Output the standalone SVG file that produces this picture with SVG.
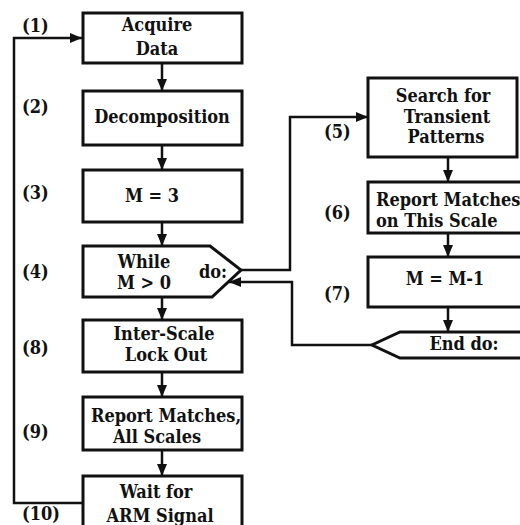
<svg xmlns="http://www.w3.org/2000/svg" width="520" height="525" viewBox="0 0 520 525">
<defs>
<marker id="ah" viewBox="0 0 12 10" refX="12" refY="5" markerWidth="12" markerHeight="10" markerUnits="userSpaceOnUse" orient="auto">
<path d="M0,0 L12,5 L0,10 z" fill="#111"/>
</marker>
<style>
.box{fill:#fff;stroke:#111;stroke-width:3}
.t{font-family:"DejaVu Serif Condensed","DejaVu Serif","Liberation Serif",serif;font-weight:bold;font-size:18px;fill:#111;text-anchor:middle}
.l{font-family:"DejaVu Serif Condensed","DejaVu Serif","Liberation Serif",serif;font-weight:bold;font-size:18px;fill:#111}
.c{fill:none;stroke:#111;stroke-width:2.5}
</style>
</defs>
<rect width="520" height="525" fill="#fff"/>
<g id="connectors">
<path class="c" d="M162,63 V91" marker-end="url(#ah)"/>
<path class="c" d="M162,145 V170" marker-end="url(#ah)"/>
<path class="c" d="M162,222 V246" marker-end="url(#ah)"/>
<path class="c" d="M162,297 V320" marker-end="url(#ah)"/>
<path class="c" d="M162,372 V397" marker-end="url(#ah)"/>
<path class="c" d="M162,450 V476" marker-end="url(#ah)"/>
<path class="c" d="M448,157 V182" marker-end="url(#ah)"/>
<path class="c" d="M448,233 V257" marker-end="url(#ah)"/>
<path class="c" d="M448,307 V332" marker-end="url(#ah)"/>
<path class="c" d="M82,503 H14 V38 H82" marker-end="url(#ah)"/>
<path class="c" d="M241,270 H290 V117 H368" marker-end="url(#ah)"/>
<path class="c" d="M372,345 H292 V282 H229" marker-end="url(#ah)"/>
</g>
<g id="labels">
<text class="l" x="22" y="32">(1)</text>
<text class="l" x="22" y="113">(2)</text>
<text class="l" x="22" y="199">(3)</text>
<text class="l" x="22" y="278">(4)</text>
<text class="l" x="22" y="354">(8)</text>
<text class="l" x="22" y="438">(9)</text>
<text class="l" x="22" y="520">(10)</text>
<text class="l" x="324" y="138">(5)</text>
<text class="l" x="324" y="219">(6)</text>
<text class="l" x="324" y="300">(7)</text>
</g>
<g id="n1"><rect class="box" x="83" y="13" width="159" height="50"/><text class="t" x="157" y="31">Acquire</text><text class="t" x="157" y="55">Data</text></g>
<g id="n2"><rect class="box" x="83" y="91" width="159" height="54"/><text class="t" x="162" y="123">Decomposition</text></g>
<g id="n3"><rect class="box" x="83" y="170" width="159" height="52"/><text class="t" x="152" y="202">M = 3</text></g>
<g id="n4"><polygon class="box" points="83,246 210,246 241,270 212,297 83,297"/><text class="t" x="144" y="268">While</text><text class="t" x="144" y="289">M &gt; 0</text><text class="t" x="213" y="278">do:</text></g>
<g id="n8"><rect class="box" x="83" y="320" width="159" height="52"/><text class="t" x="164" y="340">Inter-Scale</text><text class="t" x="166" y="361">Lock Out</text></g>
<g id="n9"><rect class="box" x="83" y="397" width="159" height="53"/><text class="t" x="166" y="422">Report Matches,</text><text class="t" x="157" y="443">All Scales</text></g>
<g id="n10"><rect class="box" x="83" y="476" width="159" height="60"/><text class="t" x="156" y="498">Wait for</text><text class="t" x="160" y="522">ARM Signal</text></g>
<g id="n5"><rect class="box" x="368" y="78" width="149" height="79"/><text class="t" x="443" y="102">Search for</text><text class="t" x="447" y="123">Transient</text><text class="t" x="446" y="143">Patterns</text></g>
<g id="n6"><rect class="box" x="368" y="182" width="162" height="51"/><text class="l" x="376" y="206">Report Matches</text><text class="l" x="376" y="227">on This Scale</text></g>
<g id="n7"><rect class="box" x="368" y="257" width="162" height="50"/><text class="t" x="445" y="285">M = M-1</text></g>
<g id="n11"><polygon class="box" points="530,332 400,332 372,345 400,358 530,358"/><text class="t" x="464" y="350">End do:</text></g>
</svg>
